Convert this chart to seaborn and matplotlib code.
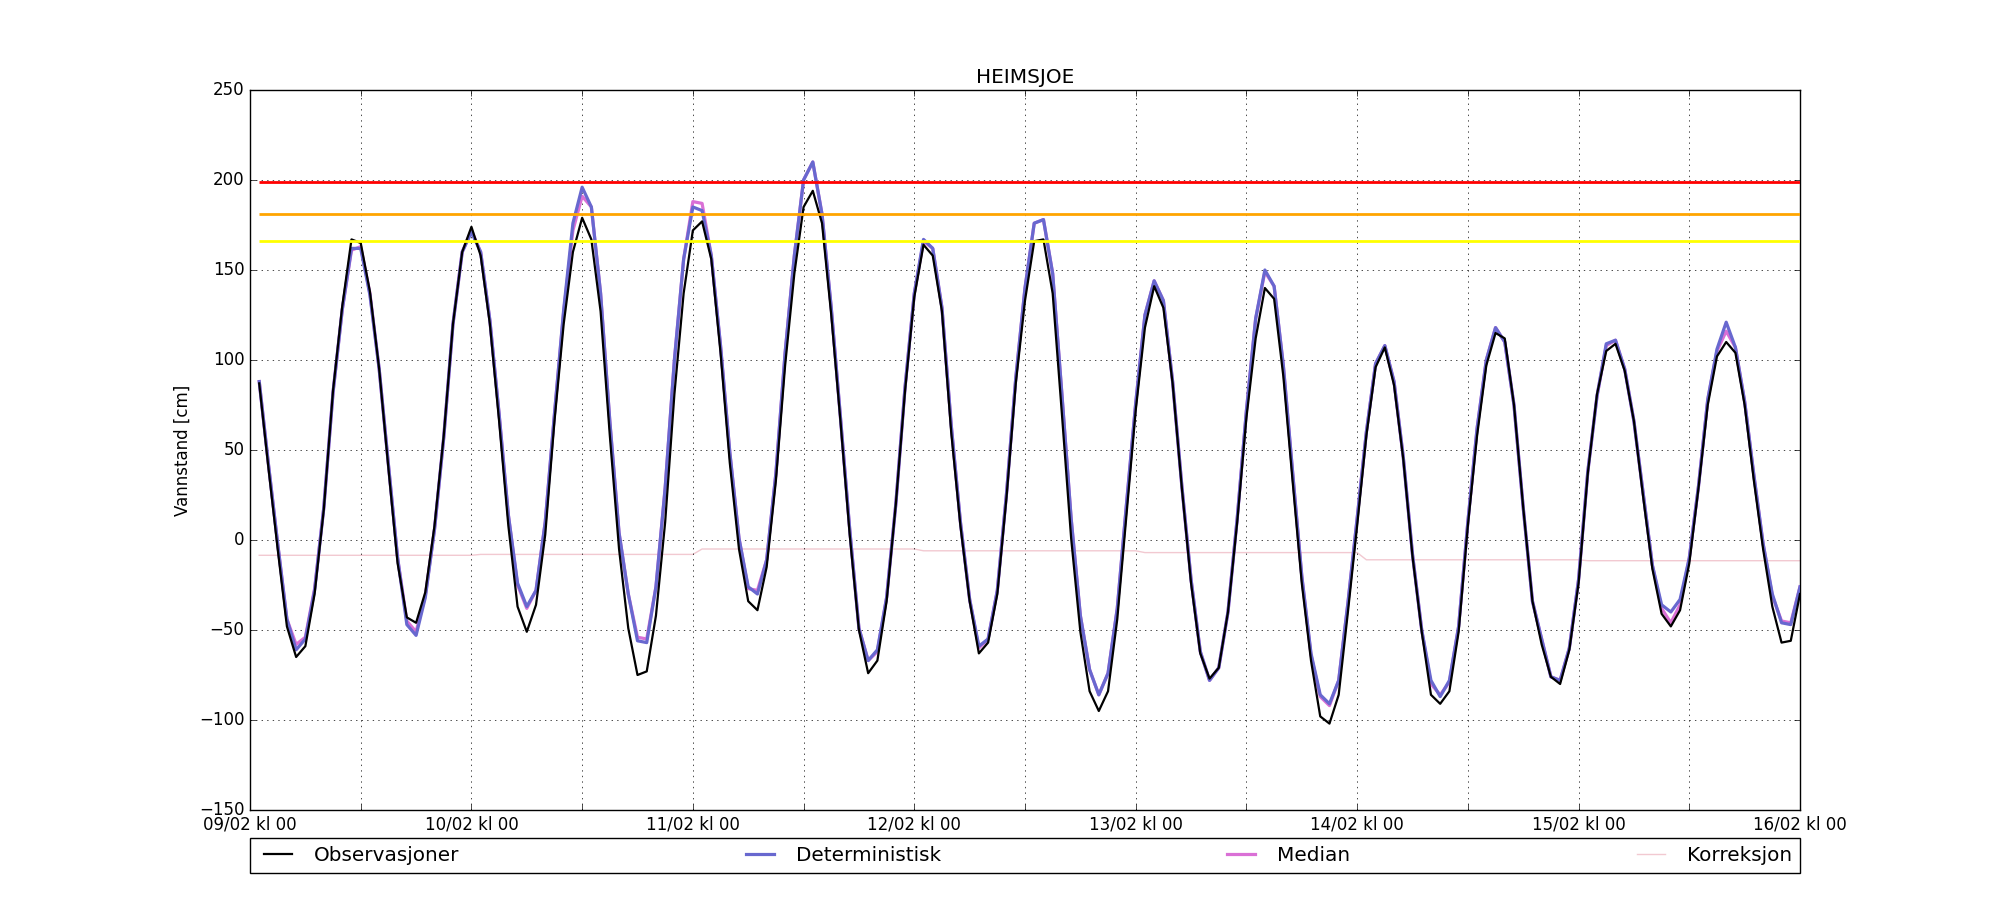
import numpy as np
import pandas as pd
import matplotlib
matplotlib.use('Agg')
import matplotlib.pyplot as plt
import matplotlib.dates as mdates
from matplotlib.ticker import FuncFormatter
import seaborn as sns

plt.style.use('classic')
plt.rcParams['font.family'] = ['DejaVu Sans']
plt.rcParams['figure.facecolor'] = 'white'
plt.rcParams['savefig.facecolor'] = 'white'

# hourly values, 09/02 kl 01 -> 16/02 kl 00 (one row per day)
observasjoner = [
    87, 40, -5, -48, -65, -59, -30, 17, 83, 130, 167, 165, 138, 95, 40, -13, -43, -46, -29, 8, 58, 120, 160, 174,
    158, 120, 66, 8, -37, -51, -36, 3, 66, 120, 160, 179, 167, 127, 58, -5, -49, -75, -73, -42, 10, 81, 137, 172,
    177, 156, 104, 43, -5, -34, -39, -15, 33, 97, 148, 185, 194, 176, 125, 66, 3, -50, -74, -67, -34, 20, 83, 135,
    164, 158, 127, 60, 8, -34, -63, -57, -30, 24, 87, 133, 166, 167, 137, 70, 1, -51, -84, -95, -84, -44, 14, 72,
    118, 141, 129, 87, 29, -24, -63, -77, -71, -40, 10, 68, 112, 140, 134, 91, 33, -24, -67, -98, -102, -86, -40, 8,
    58, 96, 107, 86, 45, -9, -51, -86, -91, -84, -51, 8, 58, 97, 115, 112, 75, 18, -34, -58, -76, -80, -61, -24,
    37, 81, 105, 109, 94, 66, 24, -16, -41, -48, -39, -13, 29, 75, 102, 110, 104, 75, 33, -5, -37, -57, -56, -30,
]
deterministisk = [
    88, 42, -2, -44, -61, -55, -28, 18, 82, 128, 162, 162, 136, 95, 42, -10, -47, -53, -32, 6, 57, 120, 160, 171,
    160, 122, 70, 14, -24, -37, -28, 10, 70, 128, 176, 196, 185, 137, 66, 4, -30, -56, -57, -26, 29, 100, 156, 185,
    183, 158, 108, 49, 1, -26, -30, -11, 37, 104, 158, 200, 210, 181, 129, 68, 6, -49, -67, -61, -32, 20, 85, 137,
    167, 162, 129, 64, 10, -33, -59, -55, -28, 26, 90, 140, 176, 178, 148, 81, 12, -42, -72, -86, -74, -38, 20, 76,
    125, 144, 133, 88, 30, -22, -62, -78, -71, -40, 12, 72, 123, 150, 141, 97, 38, -20, -63, -86, -91, -78, -35, 12,
    60, 98, 108, 88, 46, -8, -50, -78, -87, -78, -48, 10, 62, 100, 118, 110, 75, 18, -34, -55, -76, -78, -60, -22,
    38, 80, 109, 111, 95, 66, 26, -14, -36, -40, -33, -10, 30, 78, 106, 121, 107, 77, 36, -2, -30, -46, -47, -26,
]
median = [
    88, 42, -2, -44, -58, -54, -27, 18, 82, 128, 161, 163, 137, 95, 42, -10, -45, -51, -31, 6, 57, 120, 160, 172,
    160, 122, 70, 14, -25, -38, -28, 10, 70, 127, 172, 191, 185, 137, 66, 4, -30, -54, -55, -26, 29, 100, 156, 188,
    187, 158, 108, 49, 1, -27, -28, -11, 37, 104, 158, 200, 210, 181, 129, 68, 6, -49, -67, -62, -32, 20, 85, 137,
    166, 162, 129, 64, 10, -33, -60, -55, -28, 26, 90, 140, 176, 178, 148, 81, 12, -42, -72, -86, -74, -38, 20, 76,
    125, 144, 133, 88, 30, -22, -62, -78, -71, -40, 12, 72, 123, 149, 141, 97, 38, -20, -64, -87, -92, -78, -35, 12,
    60, 98, 108, 88, 46, -8, -50, -80, -86, -79, -48, 10, 62, 100, 118, 110, 75, 18, -34, -55, -76, -78, -60, -22,
    38, 80, 108, 111, 95, 66, 26, -14, -38, -46, -36, -10, 30, 78, 105, 116, 107, 77, 36, -2, -31, -45, -46, -26,
]
korreksjon = [
    -8.5, -8.5, -8.5, -8.5, -8.5, -8.5, -8.5, -8.5, -8.5, -8.5, -8.5, -8.5, -8.5, -8.5, -8.5, -8.5, -8.5, -8.5, -8.5, -8.5, -8.5, -8.5, -8.5, -8.5,
    -8, -8, -8, -8, -8, -8, -8, -8, -8, -8, -8, -8, -8, -8, -8, -8, -8, -8, -8, -8, -8, -8, -8, -8,
    -5, -5, -5, -5, -5, -5, -5, -5, -5, -5, -5, -5, -5, -5, -5, -5, -5, -5, -5, -5, -5, -5, -5, -5,
    -6, -6, -6, -6, -6, -6, -6, -6, -6, -6, -6, -6, -6, -6, -6, -6, -6, -6, -6, -6, -6, -6, -6, -6,
    -7, -7, -7, -7, -7, -7, -7, -7, -7, -7, -7, -7, -7, -7, -7, -7, -7, -7, -7, -7, -7, -7, -7, -7,
    -11, -11, -11, -11, -11, -11, -11, -11, -11, -11, -11, -11, -11, -11, -11, -11, -11, -11, -11, -11, -11, -11, -11, -11,
    -11.5, -11.5, -11.5, -11.5, -11.5, -11.5, -11.5, -11.5, -11.5, -11.5, -11.5, -11.5, -11.5, -11.5, -11.5, -11.5, -11.5, -11.5, -11.5, -11.5, -11.5, -11.5, -11.5, -11.5,
]
# warning levels [cm]
nivaa = [199, 181, 166]
nivaa_farger = ['red', 'orange', 'yellow']

tid = pd.date_range('2016-02-09 01:00', periods=len(observasjoner), freq='h')
df = pd.DataFrame({'tid': tid, 'obs': observasjoner, 'det': deterministisk,
                   'median': median, 'korr': korreksjon})

fig, ax = plt.subplots(figsize=(20, 9), dpi=100)
fig.subplots_adjust(left=0.125, right=0.9, bottom=0.1, top=0.9)

sns.lineplot(data=df, x='tid', y='korr', color='#f2c9d1', lw=1.0, zorder=2, ax=ax)
sns.lineplot(data=df, x='tid', y='median', color='orchid', lw=2.3, zorder=3, ax=ax)
sns.lineplot(data=df, x='tid', y='det', color='#6868cf', lw=2.3, zorder=4, ax=ax)
sns.lineplot(data=df, x='tid', y='obs', color='black', lw=1.6, zorder=5, ax=ax)
for v, c in zip(nivaa, nivaa_farger):
    ax.hlines(v, tid[0], tid[-1], colors=c, lw=2, zorder=6)

lines = ax.get_lines()
handles = [lines[3], lines[2], lines[1], lines[0]]
labels = ['Observasjoner', 'Deterministisk', 'Median', 'Korreksjon']
ax.legend(handles, labels, loc='upper left', bbox_to_anchor=(0., -0.039, 1., 0.),
          mode='expand', ncol=4, borderaxespad=0., handlelength=2.0, fontsize='large')

ax.set_xlim(pd.Timestamp('2016-02-09 00:00'), pd.Timestamp('2016-02-16 00:00'))
ax.set_ylim(-150, 250)
ax.xaxis.set_major_locator(mdates.HourLocator(byhour=[0, 12]))

def fmt(v, pos):
    d = mdates.num2date(v)
    return d.strftime('%d/%m kl %H') if d.hour == 0 else ''

ax.xaxis.set_major_formatter(FuncFormatter(fmt))
ax.grid(True)
ax.set_xlabel('')
ax.set_ylabel('Vannstand [cm]')
ax.set_title('HEIMSJOE')

plt.savefig('out.png', dpi=100, facecolor='white')
